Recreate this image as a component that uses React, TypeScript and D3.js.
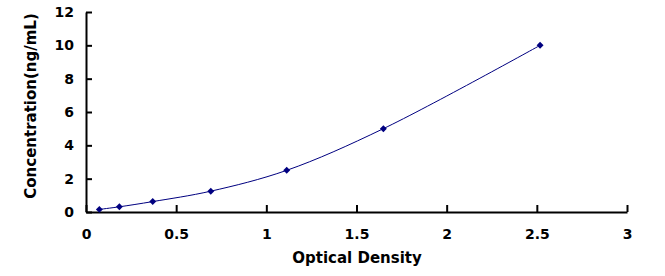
import React, { useEffect, useRef } from "react";
import * as d3 from "d3";

// standard curve points (OD vs concentration)
const odValues = [0.074, 0.185, 0.37, 0.692, 1.113, 1.649, 2.518];
const concValues = [0.156, 0.312, 0.625, 1.25, 2.5, 5, 10];
const xTicks = [0, 0.5, 1, 1.5, 2, 2.5, 3];
const yTicks = [0, 2, 4, 6, 8, 10, 12];

const App = () => {
  const svgRef = useRef<SVGSVGElement | null>(null);

  useEffect(() => {
    const width = 665;
    const height = 276;
    const svg = d3.select(svgRef.current);
    svg.selectAll("*").remove();
    svg.attr("width", width).attr("height", height);

    svg.append("rect").attr("width", width).attr("height", height).attr("fill", "white");

    const x = d3.scaleLinear().domain([0, 3]).range([86, 627]);
    const y = d3.scaleLinear().domain([0, 12]).range([212, 12]);
    const font = "'DejaVu Sans', sans-serif";

    // x axis
    svg
      .append("g")
      .attr("transform", `translate(0,${y(0)})`)
      .call(d3.axisBottom(x).tickValues(xTicks).tickSize(-7).tickFormat((d) => String(d)).tickSizeOuter(0))
      .call((g) => g.select(".domain").attr("stroke", "black").attr("stroke-width", 2))
      .call((g) => g.selectAll(".tick line").attr("stroke", "black").attr("stroke-width", 2))
      .call((g) =>
        g
          .selectAll(".tick text")
          .attr("y", 17)
          .attr("fill", "black")
          .style("font-family", font)
          .style("font-size", "14px")
          .style("font-weight", "bold")
      );

    // y axis
    svg
      .append("g")
      .attr("transform", `translate(${x(0)},0)`)
      .call(d3.axisLeft(y).tickValues(yTicks).tickSize(-6).tickFormat((d) => String(d)).tickSizeOuter(0))
      .call((g) => g.select(".domain").attr("stroke", "black").attr("stroke-width", 2))
      .call((g) => g.selectAll(".tick line").attr("stroke", "black").attr("stroke-width", 2))
      .call((g) =>
        g
          .selectAll(".tick text")
          .attr("x", -12)
          .attr("fill", "black")
          .style("font-family", font)
          .style("font-size", "14px")
          .style("font-weight", "bold")
      );

    const pts: [number, number][] = odValues.map((d, i) => [d, concValues[i]]);

    const line = d3
      .line<[number, number]>()
      .x((d) => x(d[0]))
      .y((d) => y(d[1]))
      .curve(d3.curveCatmullRom.alpha(0.5));

    svg
      .append("path")
      .datum(pts)
      .attr("d", line)
      .attr("fill", "none")
      .attr("stroke", "#000080")
      .attr("stroke-width", 1);

    // diamond markers
    const marker = d3.symbol().type(d3.symbolSquare).size(24);
    svg
      .selectAll("path.pt")
      .data(pts)
      .join("path")
      .attr("class", "pt")
      .attr("d", marker)
      .attr("transform", (d) => `translate(${x(d[0])},${y(d[1])}) rotate(45)`)
      .attr("fill", "#000080");

    // axis titles
    svg
      .append("text")
      .attr("x", 357)
      .attr("y", 263)
      .attr("text-anchor", "middle")
      .style("font-family", font)
      .style("font-size", "15px")
      .style("font-weight", "bold")
      .text("Optical Density");

    svg
      .append("text")
      .attr("transform", `translate(36,106) rotate(-90)`)
      .attr("text-anchor", "middle")
      .style("font-family", font)
      .style("font-size", "15px")
      .style("font-weight", "bold")
      .text("Concentration(ng/mL)");
  }, []);

  return <svg ref={svgRef} style={{ position: "absolute", left: 0, top: 0 }}></svg>;
};

export default App;
